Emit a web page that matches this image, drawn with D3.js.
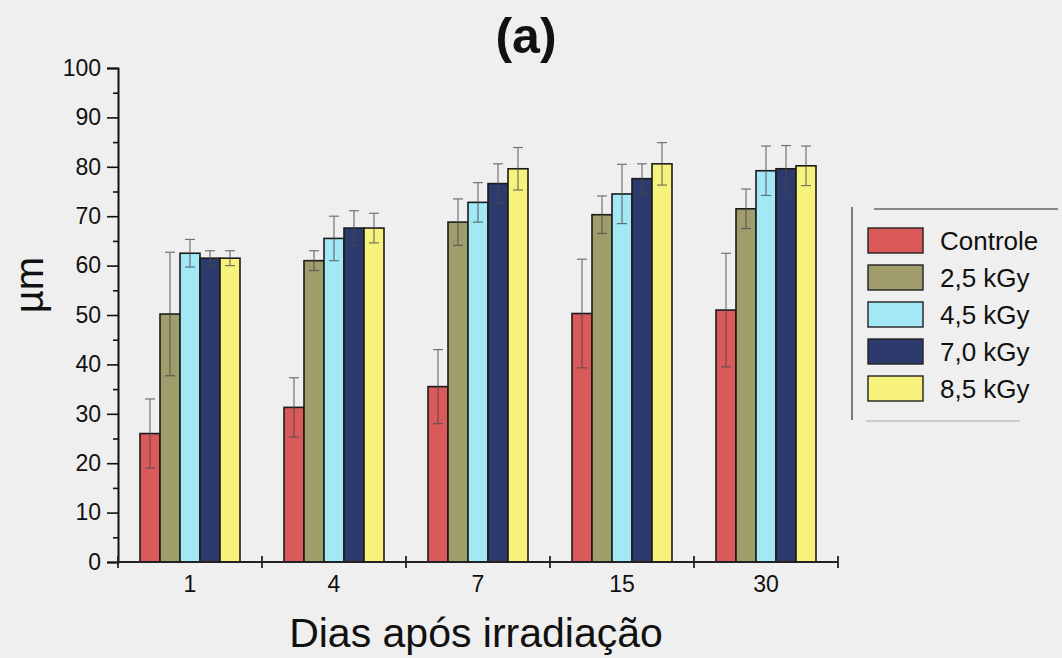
<!DOCTYPE html>
<html>
<head>
<meta charset="utf-8">
<script src="https://cdn.jsdelivr.net/npm/d3@7"></script>
<style>
  html, body { margin: 0; padding: 0; background: #efefef; }
  svg { display: block; font-family: "Liberation Sans", Arial, sans-serif; }
</style>
</head>
<body>
<svg id="chart" width="1062" height="658"></svg>
<script>
// Days after irradiation (groups) and dose series
const days = ["1", "4", "7", "15", "30"];
const series = ["Controle", "2,5 kGy", "4,5 kGy", "7,0 kGy", "8,5 kGy"];
const colors = ["#d95a58", "#a09c6c", "#a2e9f5", "#2c3a6c", "#f6f27c"];

// Mean thickness (µm) per series, one value per day
const controle = [26, 31.3, 35.5, 50.3, 51];
const dose25 = [50.2, 61, 68.8, 70.3, 71.5];
const dose45 = [62.5, 65.5, 72.8, 74.5, 79.2];
const dose70 = [61.5, 67.6, 76.6, 77.6, 79.6];
const dose85 = [61.5, 67.6, 79.6, 80.6, 80.2];

// Standard deviations
const errControle = [7, 6, 7.5, 11, 11.5];
const errDose25 = [12.5, 2, 4.7, 3.8, 4];
const errDose45 = [2.8, 4.5, 4, 6, 5];
const errDose70 = [1.5, 3.5, 4, 3, 4.7];
const errDose85 = [1.5, 3, 4.3, 4.3, 4];

const yTicks = [0, 10, 20, 30, 40, 50, 60, 70, 80, 90, 100];

const values = [controle, dose25, dose45, dose70, dose85];
const errors = [errControle, errDose25, errDose45, errDose70, errDose85];

const svg = d3.select("#chart");
const plotLeft = 118, plotRight = 838, plotTop = 68, plotBottom = 562;

const x0 = d3.scaleBand().domain(days).range([plotLeft, plotRight]).paddingInner(0).paddingOuter(0);
const x1 = d3.scaleBand().domain(series).range([0, x0.bandwidth()]).paddingInner(0).paddingOuter(1.1);
const y = d3.scaleLinear().domain([0, 100]).range([plotBottom, plotTop]);

// Bars
const groups = svg.append("g").selectAll("g")
  .data(days).join("g")
  .attr("transform", d => `translate(${x0(d)},0)`);

groups.each(function(day, di) {
  const g = d3.select(this);
  series.forEach((s, si) => {
    const v = values[si][di];
    g.append("rect")
      .attr("x", x1(s))
      .attr("y", y(v))
      .attr("width", x1.bandwidth())
      .attr("height", y(0) - y(v))
      .attr("fill", colors[si])
      .attr("stroke", "#1b1b1b")
      .attr("stroke-width", 1.6);
  });
  // Error bars
  series.forEach((s, si) => {
    const v = values[si][di], e = errors[si][di];
    const cx = x1(s) + x1.bandwidth() / 2;
    const eg = g.append("g").attr("stroke", "#4a4a4a").attr("stroke-width", 1.2).attr("opacity", 0.75);
    eg.append("line").attr("x1", cx).attr("x2", cx).attr("y1", y(v + e)).attr("y2", y(v - e));
    eg.append("line").attr("x1", cx - 5).attr("x2", cx + 5).attr("y1", y(v + e)).attr("y2", y(v + e));
    eg.append("line").attr("x1", cx - 5).attr("x2", cx + 5).attr("y1", y(v - e)).attr("y2", y(v - e));
  });
});

// Y axis
const yAxis = d3.axisLeft(y).tickValues(yTicks).tickSize(11).tickPadding(6);
const yg = svg.append("g").attr("transform", `translate(${plotLeft},0)`).call(yAxis);
yg.select(".domain").attr("stroke", "#111").attr("stroke-width", 2);
yg.selectAll(".tick line").attr("stroke", "#111").attr("stroke-width", 1.6);
yg.selectAll(".tick text").attr("font-size", 23).attr("fill", "#111")
  .attr("font-family", "'Liberation Sans', Arial, sans-serif");
// minor ticks
const yMinor = d3.axisLeft(y).tickValues(d3.range(5, 100, 10)).tickSize(5).tickFormat("");
const ym = svg.append("g").attr("transform", `translate(${plotLeft},0)`).call(yMinor);
ym.select(".domain").remove();
ym.selectAll(".tick line").attr("stroke", "#111").attr("stroke-width", 1.6);

// X axis
const xg = svg.append("g").attr("transform", `translate(0,${plotBottom})`);
xg.append("line").attr("x1", plotLeft).attr("x2", plotRight).attr("y1", 0).attr("y2", 0)
  .attr("stroke", "#222").attr("stroke-width", 1.8);
const bounds = days.map(d => x0(d)).concat([plotRight]);
xg.selectAll("line.bound").data(bounds).join("line")
  .attr("class", "bound")
  .attr("x1", d => d).attr("x2", d => d).attr("y1", -6).attr("y2", 6)
  .attr("stroke", "#222").attr("stroke-width", 1.8);
xg.selectAll("text").data(days).join("text")
  .attr("x", d => x0(d) + x0.bandwidth() / 2)
  .attr("y", 30)
  .attr("text-anchor", "middle")
  .attr("font-size", 23)
  .attr("fill", "#111")
  .text(d => d);

// Titles
svg.append("text").attr("x", 526).attr("y", 53).attr("text-anchor", "middle")
  .attr("font-size", 50).attr("font-weight", "bold").attr("fill", "#111").text("(a)");
svg.append("text").attr("x", 476).attr("y", 647).attr("text-anchor", "middle")
  .attr("font-size", 41).attr("fill", "#111").text("Dias após irradiação");
svg.append("text").attr("transform", "translate(43,285) rotate(-90)")
  .attr("text-anchor", "middle").attr("font-size", 40).attr("fill", "#111").text("µm");

// Legend
const lg = svg.append("g");
lg.append("line").attr("x1", 852).attr("x2", 852).attr("y1", 207).attr("y2", 420)
  .attr("stroke", "#555").attr("stroke-width", 1.5);
lg.append("line").attr("x1", 874).attr("x2", 1058).attr("y1", 209).attr("y2", 209)
  .attr("stroke", "#666").attr("stroke-width", 1.5);
lg.append("line").attr("x1", 866).attr("x2", 1020).attr("y1", 421).attr("y2", 421)
  .attr("stroke", "#aaa").attr("stroke-width", 1.2);
series.forEach((s, i) => {
  const yy = 228 + i * 37;
  lg.append("rect").attr("x", 868).attr("y", yy).attr("width", 55).attr("height", 25)
    .attr("fill", colors[i]).attr("stroke", "#222").attr("stroke-width", 1.4);
  lg.append("text").attr("x", 940).attr("y", yy + 22).attr("font-size", 26)
    .attr("fill", "#111").text(s);
});
</script>
</body>
</html>
